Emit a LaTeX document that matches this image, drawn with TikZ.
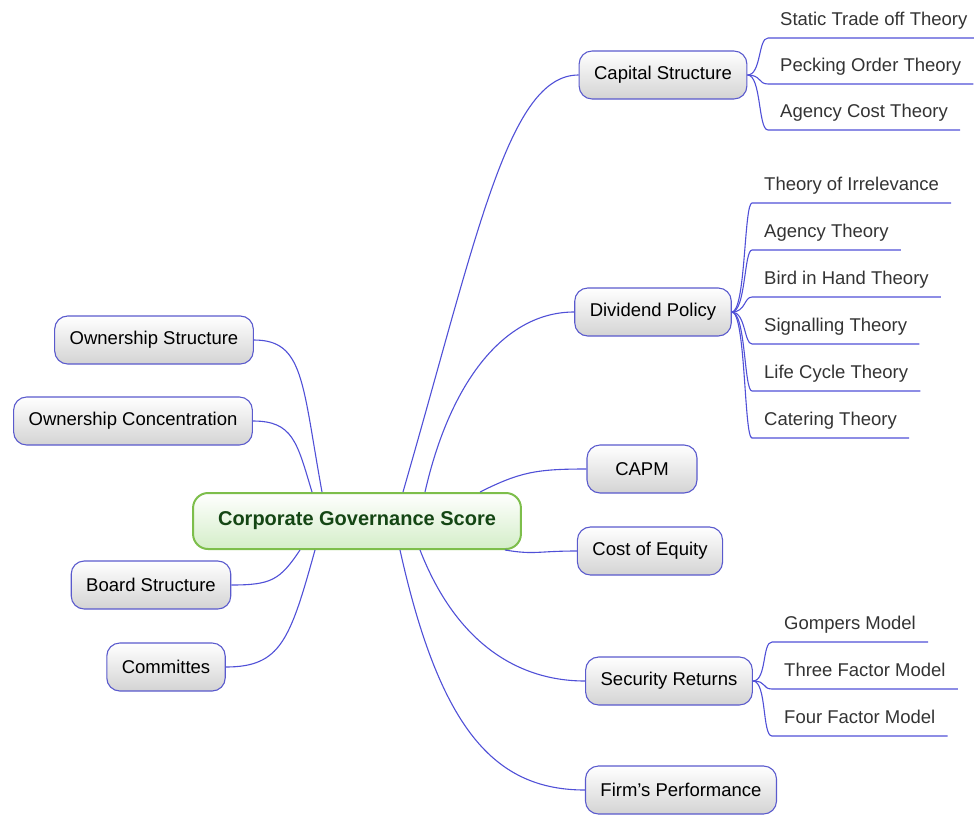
\documentclass[tikz,border=0pt]{standalone}
\usepackage{fontspec}
\setmainfont{Liberation Sans}
\usepackage{xcolor}
\usepackage{tikz}

\definecolor{linkblue}{RGB}{80,80,215}
\definecolor{boxblue}{RGB}{90,90,205}
\definecolor{rootgreen}{RGB}{125,190,75}
\definecolor{rootfill}{RGB}{212,238,200}
\definecolor{roottext}{RGB}{20,70,20}

\begin{document}
\begin{tikzpicture}[x=1pt,y=-1pt,
	topic/.style={draw=boxblue, line width=1.1pt, rounded corners=13pt, top color=white, bottom color=black!17, minimum height=48pt, minimum width=110pt, inner xsep=15pt, font=\fontsize{18.5}{22}\selectfont},
	leaf/.style={anchor=south west, inner xsep=12pt, inner ysep=8pt, text height=14pt, text depth=4pt, text=black!80, font=\fontsize{18.5}{22}\selectfont},
	link/.style={draw=linkblue, line width=1.1pt}]

\useasboundingbox (0,0) rectangle (974,817);

\node[draw=rootgreen, line width=2pt, rounded corners=15pt, top color=white, bottom color=rootfill, minimum height=56pt, inner xsep=25pt, text=roottext, font=\fontsize{20}{24}\selectfont\bfseries] (root) at (357,521) {Corporate Governance Score};

\node[topic] (cap) at (663,75) {Capital Structure};
\node[topic] (div) at (653,312) {Dividend Policy};
\node[topic] (capm) at (642,469) {CAPM};
\node[topic] (cost) at (650,551) {Cost of Equity};
\node[topic] (sec) at (669,681) {Security Returns};
\node[topic] (firm) at (681,790) {Firm's Performance};

\node[topic] (own) at (154,340) {Ownership Structure};
\node[topic] (conc) at (133,421) {Ownership Concentration};
\node[topic] (board) at (151,585) {Board Structure};
\node[topic] (comm) at (166,667) {Committes};

\draw[link] ([xshift=46pt]root.north) .. controls +(75,-260) and +(-70,0) .. (cap.west);
\draw[link] ([xshift=68pt]root.north) .. controls +(25,-110) and +(-70,0) .. (div.west);
\draw[link] ([xshift=123pt]root.north) .. controls +(40,-20) and +(-50,0) .. (capm.west);
\draw[link] ([xshift=148pt]root.south) .. controls +(30,5) and +(-40,0) .. (cost.west);
\draw[link] ([xshift=63pt]root.south) .. controls +(35,90) and +(-70,0) .. (sec.west);
\draw[link] ([xshift=43pt]root.south) .. controls +(40,180) and +(-90,0) .. (firm.west);

\draw[link] ([xshift=-35pt]root.north) .. controls +(-20,-110) and +(50,0) .. (own.east);
\draw[link] ([xshift=-45pt]root.north) .. controls +(-15,-50) and +(40,0) .. (conc.east);
\draw[link] ([xshift=-57pt]root.south) .. controls +(-20,30) and +(40,0) .. (board.east);
\draw[link] ([xshift=-42pt]root.south) .. controls +(-25,90) and +(55,0) .. (comm.east);

\foreach \n/\y/\txt in {st/38/Static Trade off Theory, po/84/Pecking Order Theory, ac/130/Agency Cost Theory}{
	\node[leaf] (\n) at (768,\y) {\txt};
	\draw[link] (cap.east) .. controls +(14,0) and +(-10,0) .. (\n.south west) -- (\n.south east);
}

\foreach \n/\y/\txt in {ir/203/Theory of Irrelevance, ag/250/Agency Theory, bh/297/Bird in Hand Theory, si/344/Signalling Theory, lc/391/Life Cycle Theory, ct/438/Catering Theory}{
	\node[leaf] (\n) at (752,\y) {\txt};
	\draw[link] (div.east) .. controls +(14,0) and +(-8,0) .. (\n.south west) -- (\n.south east);
}

\foreach \n/\y/\txt in {gm/642/Gompers Model, tf/689/Three Factor Model, ff/736/Four Factor Model}{
	\node[leaf] (\n) at (772,\y) {\txt};
	\draw[link] (sec.east) .. controls +(14,0) and +(-10,0) .. (\n.south west) -- (\n.south east);
}

\end{tikzpicture}
\end{document}
